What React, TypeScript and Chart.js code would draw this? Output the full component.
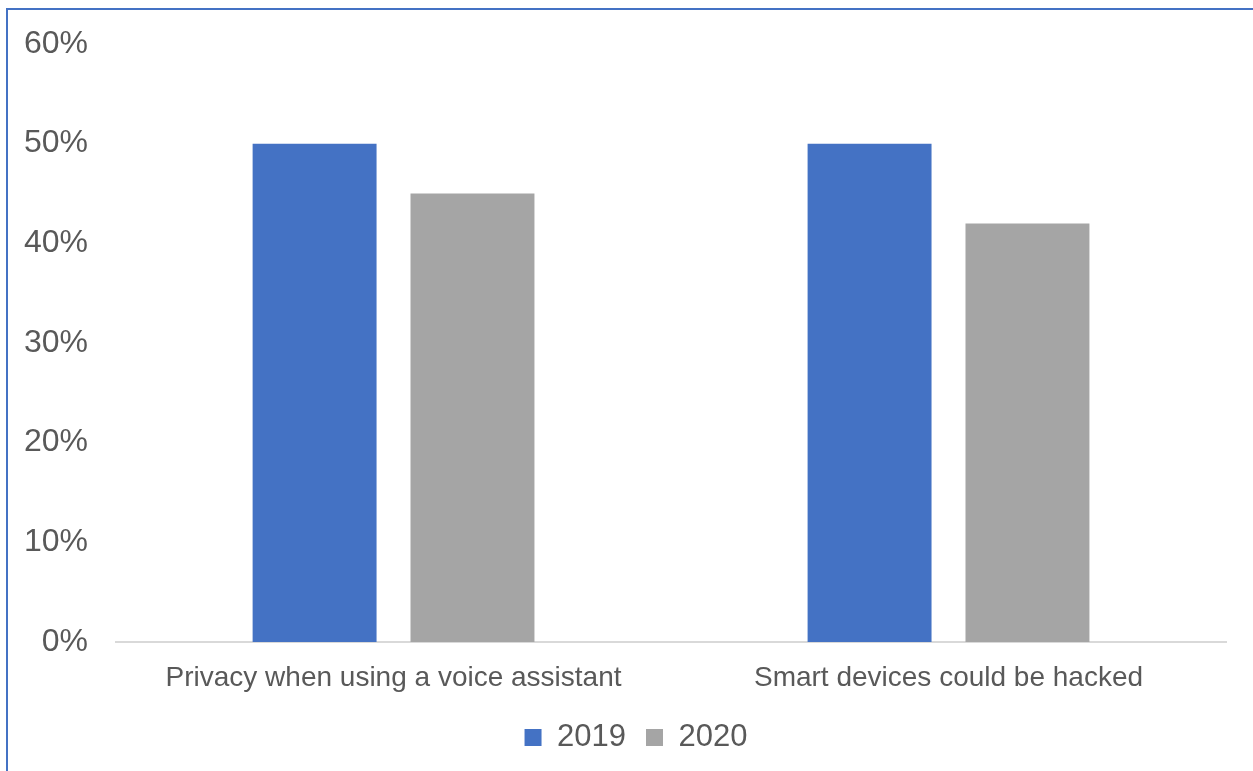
import React, { useEffect, useRef } from "react";
import { Chart, registerables } from "chart.js";

Chart.register(...registerables);

const categories = ["Privacy when using a voice assistant", "Smart devices could be hacked"];
const seriesNames = ["2019", "2020"];
const values2019 = [50, 50];
const values2020 = [45, 42];
const yTicks = [0, 10, 20, 30, 40, 50, 60];

const legendShift = {
  id: "legendShift",
  afterLayout(chart: any) {
    const lg = chart.legend;
    if (lg) {
      lg.left += 25;
      lg.right += 25;
    }
  },
};

export default function App() {
  const ref = useRef<HTMLCanvasElement | null>(null);
  useEffect(() => {
    document.body.style.margin = "0";
    document.body.style.overflow = "hidden";
    const chart = new Chart(ref.current!, {
      type: "bar",
      data: {
        labels: categories,
        datasets: [
          { label: seriesNames[0], data: values2019, backgroundColor: "#4472C4" },
          { label: seriesNames[1], data: values2020, backgroundColor: "#A5A5A5" },
        ],
      },
      plugins: [legendShift],
      options: {
        animation: false,
        responsive: false,
        maintainAspectRatio: false,
        layout: { padding: { left: -4, right: 27, top: 30, bottom: 8 } },
        datasets: { bar: { categoryPercentage: 0.569, barPercentage: 0.785 } },
        scales: {
          x: {
            grid: { display: false, drawTicks: false },
            border: { display: true, color: "#D9D9D9", width: 2 },
            ticks: {
              color: "#595959",
              font: { family: "Liberation Sans, Arial", size: 28, lineHeight: 1 },
              padding: 22,
              maxRotation: 0,
            },
            afterFit: (scale: any) => {
              scale.height = 60;
            },
          },
          y: {
            min: 0,
            max: 60,
            afterBuildTicks: (axis: any) => {
              axis.ticks = yTicks.map((v) => ({ value: v }));
            },
            grid: { display: false, drawTicks: false },
            border: { display: false },
            ticks: {
              color: "#595959",
              font: { family: "Liberation Sans, Arial", size: 32, lineHeight: 1 },
              padding: 28,
              callback: (v: any) => v + "%",
            },
          },
        },
        plugins: {
          legend: {
            position: "bottom",
            labels: {
              color: "#595959",
              font: { family: "Liberation Sans, Arial", size: 31, lineHeight: 1 },
              boxWidth: 17,
              boxHeight: 17,
              padding: 20,
            },
          },
          tooltip: { enabled: false },
        },
      },
    });
    return () => chart.destroy();
  }, []);
  return (
    <div style={{ position: "relative", width: 1253, height: 771, background: "#fff", overflow: "hidden" }}>
      <canvas ref={ref} width={1253} height={771} style={{ position: "absolute", left: 0, top: 0 }} />
      <div style={{ position: "absolute", left: 6, top: 8, width: 1260, height: 2, background: "#4472C4" }} />
      <div style={{ position: "absolute", left: 6, top: 8, width: 2, height: 780, background: "#4472C4" }} />
    </div>
  );
}
